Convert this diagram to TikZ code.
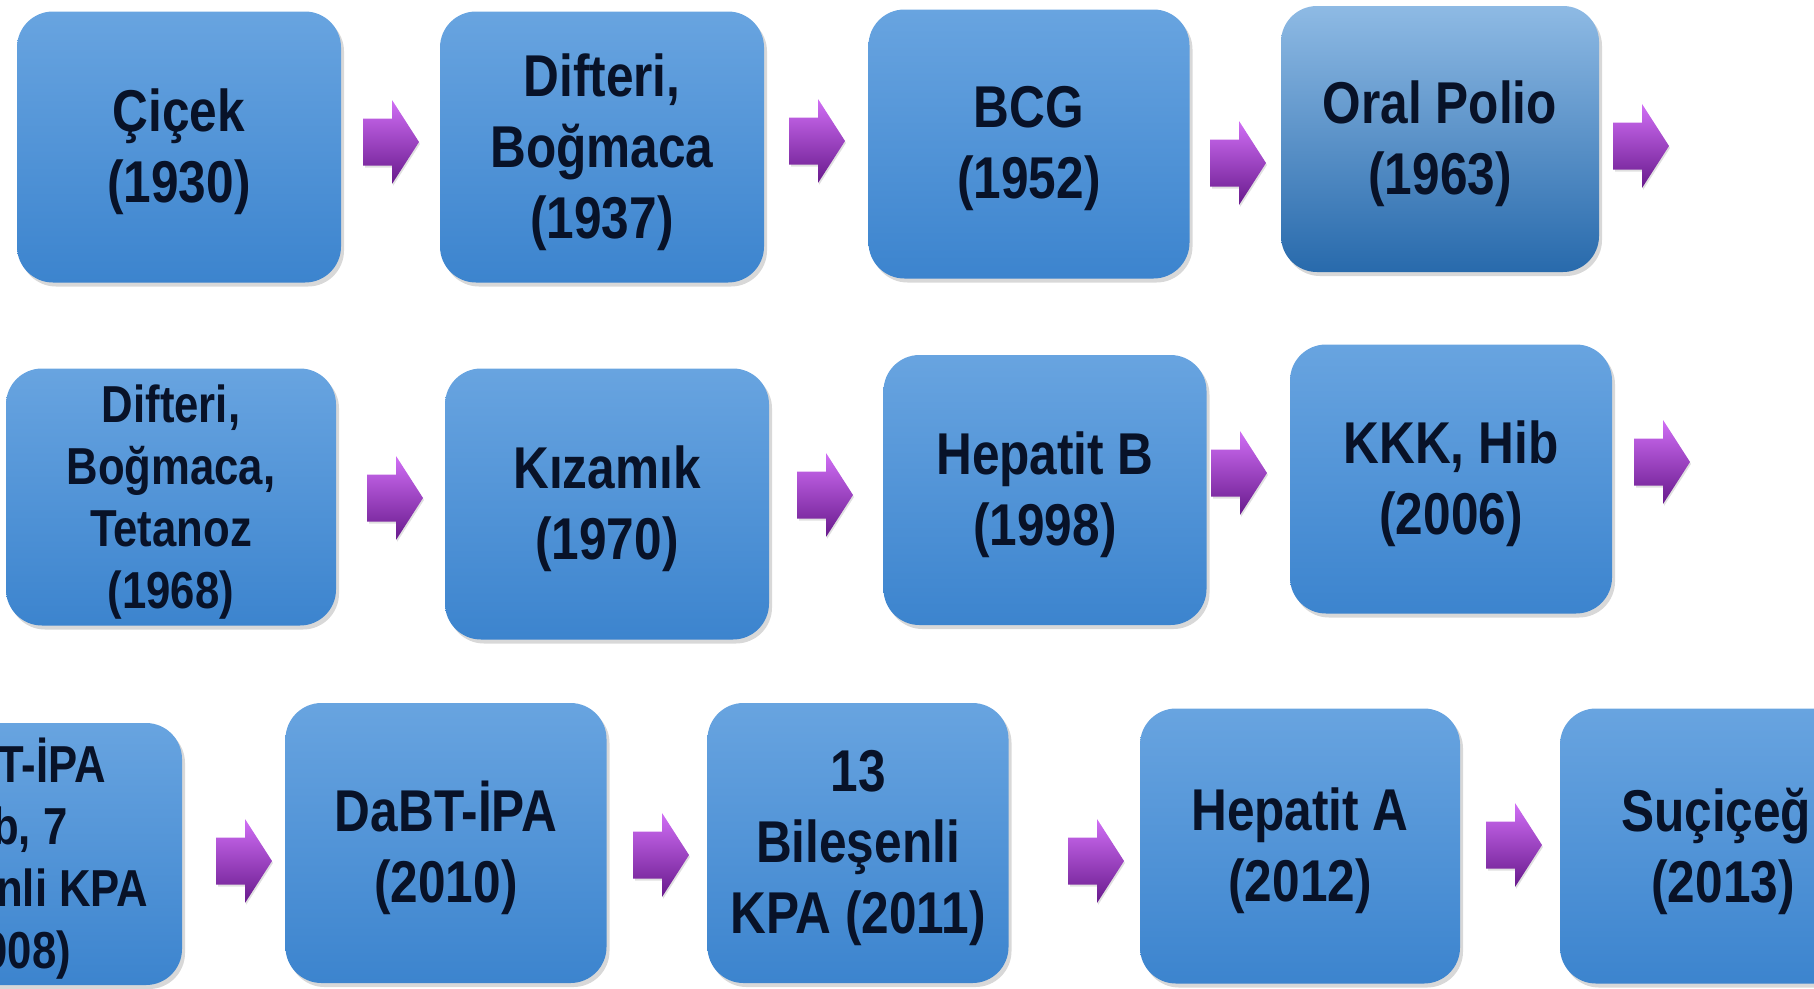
\documentclass[tikz,border=0pt]{standalone}
\usepackage{fontspec}
\setmainfont{Liberation Sans}[FakeStretch=0.84]
\usetikzlibrary{shadows}
\definecolor{txt}{RGB}{8,18,40}
\definecolor{boxtop}{RGB}{104,164,224}
\definecolor{boxbot}{RGB}{60,132,206}
\definecolor{poltop}{RGB}{142,186,228}
\definecolor{polbot}{RGB}{40,106,172}
\definecolor{arrtop}{RGB}{208,110,245}
\definecolor{arrmid}{RGB}{172,58,220}
\definecolor{arrbot}{RGB}{104,26,140}
\begin{document}
\begin{tikzpicture}[x=1pt,y=-1pt,
  vbox/.style 2 args={rectangle, rounded corners=36pt, top color=boxtop, bottom color=boxbot,
    draw=none, inner sep=0pt,
    minimum width=#1pt, minimum height=#2pt,
    drop shadow={shadow xshift=3pt, shadow yshift=-4pt, opacity=0.22, fill=black!70}},
  boxtext/.style={align=center, text=txt, inner sep=0pt, yshift=-5pt,
    font=\fontsize{59}{71}\selectfont\bfseries},
  smalltext/.style={boxtext, font=\fontsize{52}{62}\selectfont\bfseries},
  polio/.style={top color=poltop, bottom color=polbot},
  barrow/.pic={
    \fill[black, opacity=0.12] (2,-21.5) -- (30,-21.5) -- (30,-40) -- (57,2) -- (30,44) -- (30,25.5) -- (2,25.5) -- cycle;
    \shade[top color=arrtop, middle color=arrmid, bottom color=arrbot]
      (0,-23.5) -- (29,-23.5) -- (29,-42) -- (56,0) -- (29,42) -- (29,23.5) -- (0,23.5) -- cycle;
  }
]
\useasboundingbox (0,0) rectangle (1814,988);
\clip (0,0) rectangle (1814,988);

% Row 1
\node[vbox={324}{271}, label={[boxtext]center:{Çiçek\\(1930)}}] (cicek) at (179,147) {};
\node[vbox={324}{271}, label={[boxtext]center:{Difteri,\\Boğmaca\\(1937)}}] (difbog) at (602,147) {};
\node[vbox={321}{269}, label={[boxtext]center:{BCG\\(1952)}}] (bcg) at (1029,144) {};
\node[vbox={318}{266}, polio, label={[boxtext]center:{Oral Polio\\(1963)}}] (polio) at (1440,139) {};
\pic (a11) at (363,142) {barrow};
\pic (a12) at (789,141) {barrow};
\pic (a13) at (1210,163) {barrow};
\pic (a14) at (1613,146) {barrow};

% Row 2
\node[vbox={330}{257}, label={[smalltext]center:{Difteri,\\Boğmaca,\\Tetanoz\\(1968)}}] (dbt) at (171,497) {};
\node[vbox={324}{271}, label={[boxtext]center:{Kızamık\\(1970)}}] (kizamik) at (607,504) {};
\node[vbox={323}{270}, label={[boxtext]center:{Hepatit B\\(1998)}}] (hepb) at (1045,490) {};
\node[vbox={322}{269}, label={[boxtext]center:{KKK, Hib\\(2006)}}] (kkk) at (1451,479) {};
\pic (a21) at (367,498) {barrow};
\pic (a22) at (797,495) {barrow};
\pic (a23) at (1211,473) {barrow};
\pic (a24) at (1634,462) {barrow};

% Row 3
\node[vbox={354}{262}, label={[smalltext, xshift=3pt]center:{DaBT-İPA\\Hib, 7\\Bileşenli KPA\\(2008)}}] (dabthib) at (5,854) {};
\node[vbox={321}{280}, label={[boxtext]center:{DaBT-İPA\\(2010)}}] (dabt) at (446,843) {};
\node[vbox={301}{280}, label={[boxtext]center:{13\\Bileşenli\\KPA (2011)}}] (kpa13) at (858,843) {};
\node[vbox={320}{275}, label={[boxtext]center:{Hepatit A\\(2012)}}] (hepa) at (1300,846) {};
\node[vbox={326}{275}, label={[boxtext]center:{Suçiçeği\\(2013)}}] (sucicegi) at (1723,846) {};
\pic (a31) at (216,861) {barrow};
\pic (a32) at (633,855) {barrow};
\pic (a33) at (1068,861) {barrow};
\pic (a34) at (1486,845) {barrow};
\end{tikzpicture}
\end{document}
